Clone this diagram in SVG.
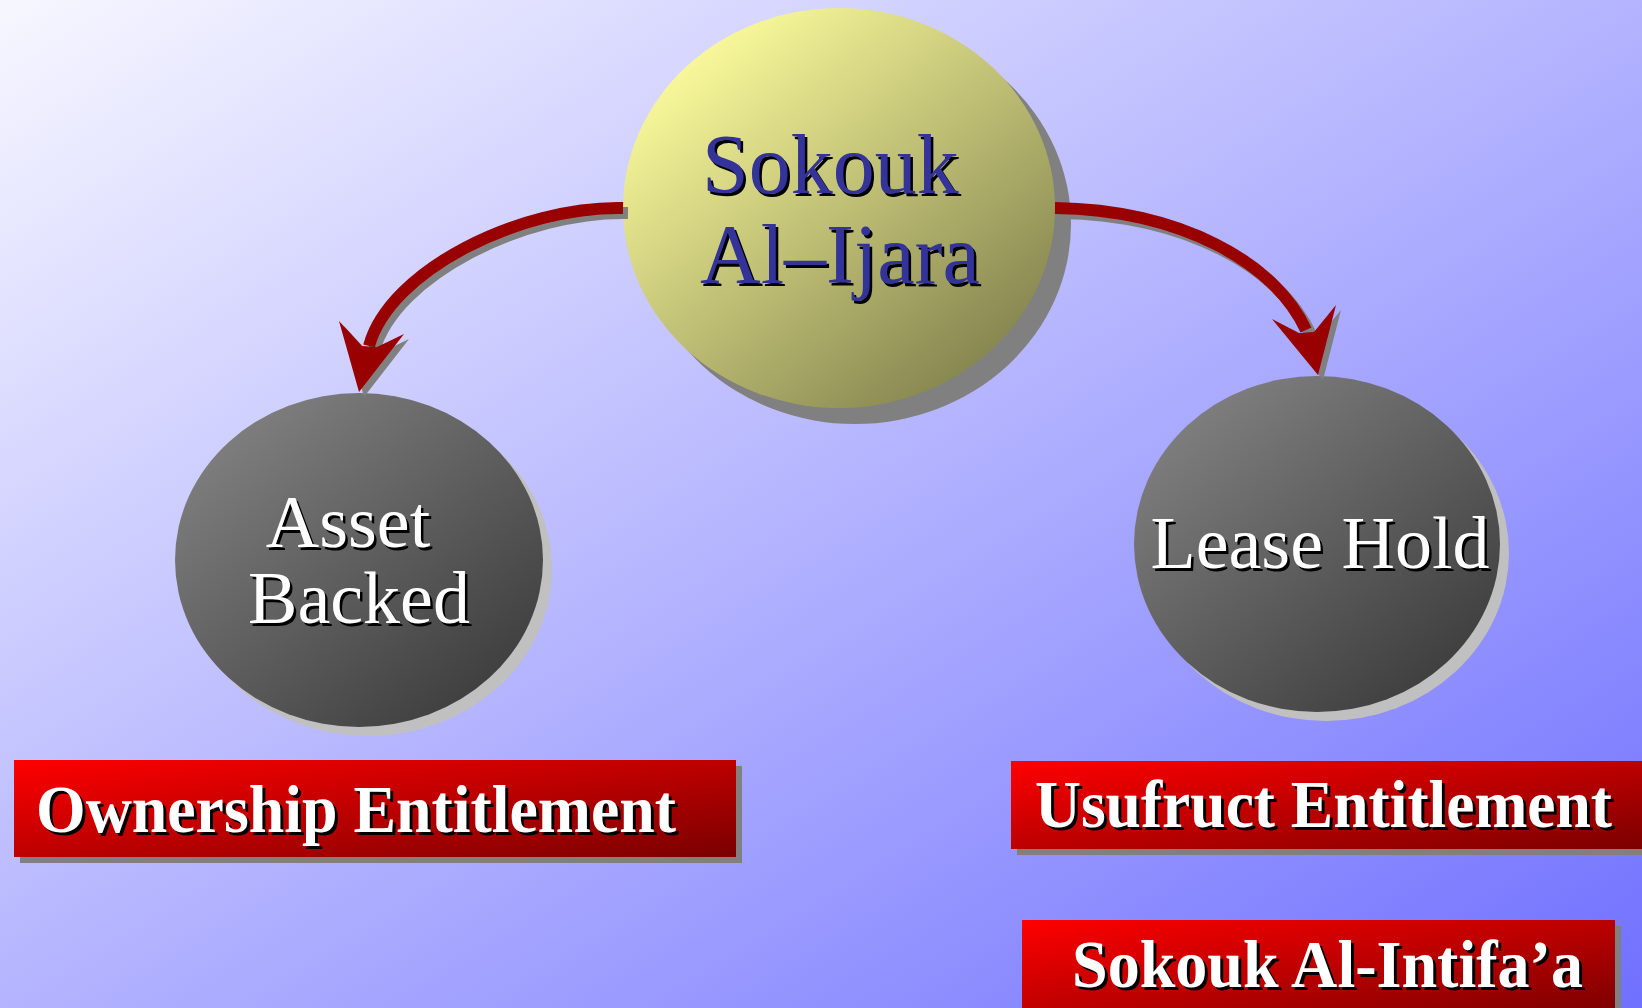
<svg xmlns="http://www.w3.org/2000/svg" width="1642" height="1008" viewBox="0 0 1642 1008">
<defs>
<linearGradient id="bg" x1="0" y1="0" x2="1" y2="1">
<stop offset="0" stop-color="#f7f7ff"/>
<stop offset="1" stop-color="#7070ff"/>
</linearGradient>
<linearGradient id="yel" x1="0.15" y1="0.1" x2="0.9" y2="0.95">
<stop offset="0" stop-color="#fbfb9c"/>
<stop offset="1" stop-color="#7c7c4a"/>
</linearGradient>
<linearGradient id="gry" x1="0.1" y1="0.05" x2="0.9" y2="0.95">
<stop offset="0" stop-color="#838383"/>
<stop offset="1" stop-color="#3a3a3a"/>
</linearGradient>
<linearGradient id="red" x1="0" y1="0" x2="1" y2="1">
<stop offset="0" stop-color="#ff0000"/>
<stop offset="1" stop-color="#7a0000"/>
</linearGradient>
</defs>
<style>
.lbl{font-family:"Liberation Serif","Times New Roman",serif;}
.big{font-size:84px;fill:#333399;}
.mid{font-size:74px;fill:#ffffff;}
.box{font-family:"Liberation Serif","Times New Roman",serif;font-weight:bold;font-size:68px;fill:#ffffff;}
.sh{fill:#000000;}
.shaft{fill:none;stroke:#990000;stroke-width:12;stroke-linecap:butt;}
.shaftsh{fill:none;stroke:#808080;stroke-width:12;stroke-linecap:butt;}
.head{fill:#990000;}
.headsh{fill:#808080;}
</style>
<rect x="0" y="0" width="1642" height="1008" fill="url(#bg)"/>

<g id="node-sokouk-al-ijara">
<ellipse cx="855" cy="224" rx="216" ry="200" fill="#808080"/>
<ellipse cx="839" cy="208" rx="216" ry="200" fill="url(#yel)"/>
<text class="lbl big sh" x="704.5" y="195.5">Sokouk</text>
<text class="lbl big" x="702" y="193">Sokouk</text>
<text class="lbl big sh" x="702.5" y="285.5">Al–Ijara</text>
<text class="lbl big" x="700" y="283">Al–Ijara</text>
</g>

<g id="node-asset-backed">
<ellipse cx="368" cy="569" rx="184" ry="167" fill="#c0c0c0"/>
<ellipse cx="359" cy="560" rx="184" ry="167" fill="url(#gry)"/>
<text class="lbl mid sh" x="350.5" y="549.5" text-anchor="middle">Asset</text>
<text class="lbl mid" x="348" y="547" text-anchor="middle">Asset</text>
<text class="lbl mid sh" x="361.5" y="625.5" text-anchor="middle">Backed</text>
<text class="lbl mid" x="359" y="623" text-anchor="middle">Backed</text>
</g>

<g id="node-lease-hold">
<ellipse cx="1326" cy="553" rx="183" ry="168" fill="#c0c0c0"/>
<ellipse cx="1317" cy="544" rx="183" ry="168" fill="url(#gry)"/>
<text class="lbl mid sh" x="1322.5" y="570.5" text-anchor="middle">Lease Hold</text>
<text class="lbl mid" x="1320" y="568" text-anchor="middle">Lease Hold</text>
</g>

<g id="node-ownership-entitlement">
<rect x="20" y="766" width="722" height="97" fill="#808080"/>
<rect x="14" y="760" width="722" height="97" fill="url(#red)"/>
<text class="box sh" x="39" y="835" textLength="640" lengthAdjust="spacingAndGlyphs">Ownership Entitlement</text>
<text class="box" x="36" y="832" textLength="640" lengthAdjust="spacingAndGlyphs">Ownership Entitlement</text>
</g>

<g id="node-usufruct-entitlement">
<rect x="1017" y="767" width="640" height="88" fill="#808080"/>
<rect x="1011" y="761" width="640" height="88" fill="url(#red)"/>
<text class="box sh" x="1038" y="830" textLength="577" lengthAdjust="spacingAndGlyphs">Usufruct Entitlement</text>
<text class="box" x="1035" y="827" textLength="577" lengthAdjust="spacingAndGlyphs">Usufruct Entitlement</text>
</g>

<g id="node-sokouk-al-intifaa">
<rect x="1028" y="926" width="593" height="95" fill="#808080"/>
<rect x="1022" y="920" width="593" height="95" fill="url(#red)"/>
<text class="box sh" x="1075" y="990" textLength="511" lengthAdjust="spacingAndGlyphs">Sokouk Al-Intifa’a</text>
<text class="box" x="1072" y="987" textLength="511" lengthAdjust="spacingAndGlyphs">Sokouk Al-Intifa’a</text>
</g>

<g id="connectors">
<g id="edge-left">
<path class="shaftsh" d="M628 213 C525 211 395 275 374 351"/>
<polygon class="headsh" points="364,397 344,326 367,351 382,352 409,339"/>
<path class="shaft" d="M623 208 C520 206 390 270 369 346"/>
<polygon class="head" points="359,392 339,321 362,346 377,347 404,334"/>
</g>
<g id="edge-right">
<path class="shaftsh" d="M1060 213 C1185 215 1280 267 1311 335"/>
<polygon class="headsh" points="1323,380 1277,324 1304,338 1319,337 1341,310"/>
<path class="shaft" d="M1055 208 C1180 210 1275 262 1306 330"/>
<polygon class="head" points="1318,375 1272,319 1299,333 1314,332 1336,305"/>
</g>
</g>
</svg>
